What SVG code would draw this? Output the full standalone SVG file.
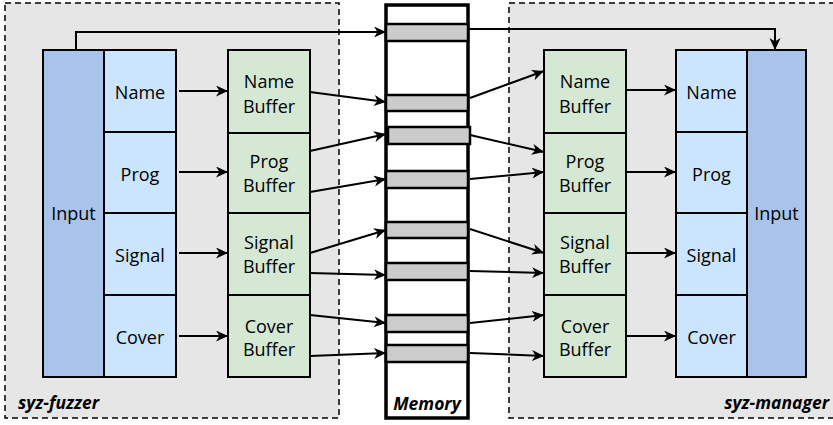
<svg xmlns="http://www.w3.org/2000/svg" width="833" height="425" viewBox="0 0 833 425">
<defs>
<marker id="ah" markerUnits="userSpaceOnUse" markerWidth="14" markerHeight="12" refX="12" refY="5.5" orient="auto">
<path d="M0,0 L12,5.5 L0,11 L3.5,5.5 z" fill="#000"/>
</marker>
<style>
.cont{fill:#e6e6e6;stroke:#000;stroke-width:1.5;stroke-dasharray:6 4}
.inp{fill:#a9c4eb;stroke:#000;stroke-width:2}
.fld{fill:#cce5ff;stroke:#000;stroke-width:2}
.buf{fill:#d5e8d4;stroke:#000;stroke-width:2}
.mem{fill:#fff;stroke:#000;stroke-width:3.5}
.slot{fill:#cccccc;stroke:#000;stroke-width:2.5}
.t{font-family:"Open Sans","Liberation Sans",sans-serif;font-size:18px;fill:#000;text-anchor:middle}
.lbl{font-family:"Open Sans","Liberation Sans",sans-serif;font-size:17.5px;font-weight:bold;font-style:italic;fill:#000}
.c{fill:none;stroke:#000;stroke-width:2;marker-end:url(#ah)}
</style>
</defs>
<rect width="833" height="425" fill="#fff"/>

<g id="syz-fuzzer">
<rect class="cont" x="5" y="3" width="334" height="415"/>
<text class="lbl" x="18" y="409">syz-fuzzer</text>
</g>
<g id="syz-manager">
<rect class="cont" x="509" y="3" width="330" height="415"/>
<text class="lbl" x="829" y="409" text-anchor="end">syz-manager</text>
</g>

<g id="memory">
<rect class="mem" x="386" y="5" width="82" height="413"/>
<rect class="slot" x="386" y="24" width="82" height="17"/>
<rect class="slot" x="386" y="95" width="82" height="16"/>
<rect class="slot" x="388" y="127" width="82" height="17"/>
<rect class="slot" x="386" y="171" width="82" height="17"/>
<rect class="slot" x="386" y="222" width="82" height="16"/>
<rect class="slot" x="386" y="263" width="82" height="17"/>
<rect class="slot" x="386" y="315" width="82" height="17"/>
<rect class="slot" x="386" y="345" width="82" height="17"/>
<text class="lbl" x="427" y="410" text-anchor="middle">Memory</text>
</g>

<g id="f-input">
<rect class="inp" x="43" y="50" width="61" height="327"/>
<text class="t" x="73.5" y="220">Input</text>
</g>
<g id="f-name"><rect class="fld" x="104" y="50" width="72" height="82"/><text class="t" x="140" y="99">Name</text></g>
<g id="f-prog"><rect class="fld" x="104" y="132" width="72" height="81"/><text class="t" x="140" y="181">Prog</text></g>
<g id="f-signal"><rect class="fld" x="104" y="213" width="72" height="82"/><text class="t" x="140" y="262">Signal</text></g>
<g id="f-cover"><rect class="fld" x="104" y="295" width="72" height="82"/><text class="t" x="140" y="344">Cover</text></g>

<g id="f-namebuf"><rect class="buf" x="228" y="50" width="82" height="83"/><text class="t" x="269" y="88">Name</text><text class="t" x="269" y="113">Buffer</text></g>
<g id="f-progbuf"><rect class="buf" x="228" y="133" width="82" height="80"/><text class="t" x="269" y="168">Prog</text><text class="t" x="269" y="192">Buffer</text></g>
<g id="f-signalbuf"><rect class="buf" x="228" y="213" width="82" height="82"/><text class="t" x="269" y="249">Signal</text><text class="t" x="269" y="273">Buffer</text></g>
<g id="f-coverbuf"><rect class="buf" x="228" y="295" width="82" height="82"/><text class="t" x="269" y="333">Cover</text><text class="t" x="269" y="356">Buffer</text></g>

<g id="m-namebuf"><rect class="buf" x="544" y="50" width="82" height="83"/><text class="t" x="585" y="88">Name</text><text class="t" x="585" y="113">Buffer</text></g>
<g id="m-progbuf"><rect class="buf" x="544" y="133" width="82" height="80"/><text class="t" x="585" y="168">Prog</text><text class="t" x="585" y="192">Buffer</text></g>
<g id="m-signalbuf"><rect class="buf" x="544" y="213" width="82" height="82"/><text class="t" x="585" y="249">Signal</text><text class="t" x="585" y="273">Buffer</text></g>
<g id="m-coverbuf"><rect class="buf" x="544" y="295" width="82" height="82"/><text class="t" x="585" y="333">Cover</text><text class="t" x="585" y="356">Buffer</text></g>

<g id="m-input">
<rect class="inp" x="747" y="50" width="59" height="327"/>
<text class="t" x="776.5" y="220">Input</text>
</g>
<g id="m-name"><rect class="fld" x="676" y="50" width="71" height="82"/><text class="t" x="711.5" y="99">Name</text></g>
<g id="m-prog"><rect class="fld" x="676" y="132" width="71" height="81"/><text class="t" x="711.5" y="181">Prog</text></g>
<g id="m-signal"><rect class="fld" x="676" y="213" width="71" height="82"/><text class="t" x="711.5" y="262">Signal</text></g>
<g id="m-cover"><rect class="fld" x="676" y="295" width="71" height="82"/><text class="t" x="711.5" y="344">Cover</text></g>

<g id="connectors">
<path class="c" d="M76,50 V32 H386"/>
<path class="c" d="M469,29 H775 V50"/>
<path class="c" d="M179,91 H228"/>
<path class="c" d="M179,172 H228"/>
<path class="c" d="M179,253 H228"/>
<path class="c" d="M179,336 H228"/>
<path class="c" d="M310,92 L386,102"/>
<path class="c" d="M310,151 L386,134"/>
<path class="c" d="M310,192 L386,179"/>
<path class="c" d="M310,253 L386,230"/>
<path class="c" d="M310,273 L386,275"/>
<path class="c" d="M310,315 L386,323"/>
<path class="c" d="M310,356 L386,353"/>
<path class="c" d="M470,98 L544,71"/>
<path class="c" d="M470,135 L544,152"/>
<path class="c" d="M470,179 L544,172"/>
<path class="c" d="M470,229 L544,253"/>
<path class="c" d="M470,271 L544,273"/>
<path class="c" d="M470,323 L544,315"/>
<path class="c" d="M470,353 L544,356"/>
<path class="c" d="M626,90 H676"/>
<path class="c" d="M626,172 H676"/>
<path class="c" d="M626,253 H676"/>
<path class="c" d="M626,336 H676"/>
</g>
</svg>
